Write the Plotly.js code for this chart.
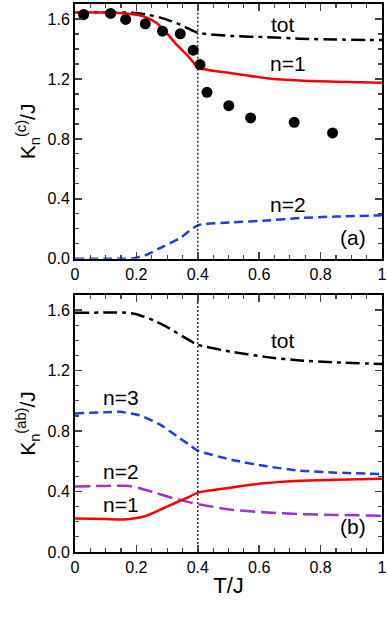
<!DOCTYPE html>
<html><head><meta charset="utf-8">
<script src="https://cdn.plot.ly/plotly-3.0.1.min.js"></script>
<style>html,body{margin:0;padding:0;background:#fff}#chart{width:387px;height:617px}</style>
</head><body><div id="chart"></div>
<script>
// Panel (a): K_n^(c)/J
const aDotsT = [0.028,0.116,0.165,0.229,0.285,0.343,0.385,0.407,0.430,0.501,0.572,0.714,0.839];
const aDotsK = [1.630,1.637,1.597,1.568,1.519,1.501,1.392,1.296,1.111,1.022,0.940,0.911,0.840];
const aN1T = [0,0.10,0.168,0.222,0.266,0.298,0.331,0.364,0.396,0.40,0.516,0.625,0.733,0.85,1.0];
const aN1K = [1.645,1.643,1.636,1.618,1.573,1.507,1.429,1.362,1.284,1.274,1.236,1.205,1.189,1.181,1.175];
const aTotT = [0,0.10,0.20,0.233,0.276,0.331,0.37,0.40,0.516,0.625,0.733,0.85,1.0];
const aTotK = [1.645,1.645,1.640,1.630,1.611,1.573,1.535,1.508,1.486,1.479,1.468,1.463,1.459];
const aN2T = [0,0.10,0.189,0.233,0.287,0.342,0.40,0.516,0.625,0.733,0.85,1.0];
const aN2K = [0,0,0.003,0.027,0.082,0.138,0.223,0.243,0.256,0.272,0.282,0.290];
// Panel (b): K_n^(ab)/J
const bT = [0,0.10,0.157,0.20,0.255,0.309,0.363,0.40,0.516,0.625,0.733,0.85,1.0];
const bTot = [1.582,1.584,1.584,1.573,1.533,1.478,1.411,1.371,1.322,1.289,1.267,1.254,1.244];
const bN3T = [0,0.10,0.146,0.211,0.276,0.331,0.37,0.40,0.516,0.625,0.733,0.85,1.0];
const bN3 = [0.916,0.925,0.927,0.904,0.844,0.767,0.712,0.671,0.607,0.567,0.538,0.525,0.516];
const bN2T = [0,0.10,0.168,0.211,0.266,0.331,0.37,0.40,0.516,0.625,0.733,0.85,1.0];
const bN2 = [0.433,0.437,0.438,0.422,0.389,0.349,0.330,0.316,0.278,0.262,0.251,0.245,0.240];
const bN1T = [0,0.10,0.168,0.222,0.276,0.331,0.374,0.40,0.516,0.625,0.733,0.85,1.0];
const bN1 = [0.222,0.218,0.216,0.233,0.278,0.329,0.367,0.393,0.429,0.456,0.471,0.478,0.484];
const xTicks = [0,0.2,0.4,0.6,0.8,1];
const xTickText = ['0','0.2','0.4','0.6','0.8','1'];
const yTicks = [0,0.4,0.8,1.2,1.6];
const yTickText = ['0.0','0.4','0.8','1.2','1.6'];
const Tc = 0.4;

const sp = 0.6;
const traces = [
  {x:aTotT,y:aTotK,xaxis:'x',yaxis:'y',mode:'lines',line:{color:'#000',width:2.5,dash:'14px,5px,4px,5px',shape:'spline',smoothing:sp}},
  {x:aN2T,y:aN2K,xaxis:'x',yaxis:'y',mode:'lines',line:{color:'#1f3de8',width:2.5,dash:'9px,5px',shape:'spline',smoothing:sp}},
  {x:aN1T,y:aN1K,xaxis:'x',yaxis:'y',mode:'lines',line:{color:'#ff0000',width:2.5,shape:'spline',smoothing:sp}},
  {x:aDotsT,y:aDotsK,xaxis:'x',yaxis:'y',mode:'markers',marker:{color:'#000',size:11}},
  {x:[Tc,Tc],y:[0,1.7],xaxis:'x',yaxis:'y',mode:'lines',line:{color:'#000',width:1.2,dash:'2px,2px'}},
  {x:bT,y:bTot,xaxis:'x2',yaxis:'y2',mode:'lines',line:{color:'#000',width:2.5,dash:'14px,5px,4px,5px',shape:'spline',smoothing:sp}},
  {x:bN3T,y:bN3,xaxis:'x2',yaxis:'y2',mode:'lines',line:{color:'#1f3de8',width:2.5,dash:'9px,5px',shape:'spline',smoothing:sp}},
  {x:bN2T,y:bN2,xaxis:'x2',yaxis:'y2',mode:'lines',line:{color:'#a030d0',width:2.5,dash:'15px,6px',shape:'spline',smoothing:sp}},
  {x:bN1T,y:bN1,xaxis:'x2',yaxis:'y2',mode:'lines',line:{color:'#ff0000',width:2.5,shape:'spline',smoothing:sp}},
  {x:[Tc,Tc],y:[0,1.7],xaxis:'x2',yaxis:'y2',mode:'lines',line:{color:'#000',width:1.2,dash:'2px,2px'}}
];

const fam = "Arial, 'Liberation Sans', sans-serif";
const fnt = {family:fam,size:16,color:'#000'};
function xa(anchor, title){
  return {range:[0,1],anchor:anchor,tickvals:xTicks,ticktext:xTickText,ticks:'inside',ticklen:7,tickwidth:1.5,
    mirror:'allticks',showline:true,linewidth:2,linecolor:'#000',showgrid:false,zeroline:false,tickfont:fnt,
    minor:{dtick:0.05,ticks:'inside',ticklen:4,tickwidth:1.2,showgrid:false},
    title:title?{text:title,font:{family:fam,size:22,color:'#000'},standoff:2}:undefined};
}
function ya(dom, anchor, title){
  return {domain:dom,range:[0,1.7],anchor:anchor,tickvals:yTicks,ticktext:yTickText,ticks:'inside',ticklen:7,tickwidth:1.5,
    mirror:'allticks',showline:true,linewidth:2,linecolor:'#000',showgrid:false,zeroline:false,tickfont:fnt,
    minor:{dtick:0.1,ticks:'inside',ticklen:4,tickwidth:1.2,showgrid:false},
    title:{text:title,font:{family:fam,size:21,color:'#000'},standoff:6}};
}
const afont = {family:fam,size:21,color:'#000'};
function ann(x,y,t,xr,yr){return {x:x,y:y,xref:xr,yref:yr,text:t,showarrow:false,font:afont};}
const layout = {
  width:387,height:617,margin:{l:75,r:5,t:4,b:65},paper_bgcolor:'#fff',plot_bgcolor:'#fff',showlegend:false,
  font:{family:fam,color:'#000'},
  xaxis:xa('y'),
  yaxis:ya([0.535,1],'x','K<sub>n</sub><sup>(c)</sup>/J'),
  xaxis2:xa('y2','T/J'),
  yaxis2:ya([0,0.469],'x2','K<sub>n</sub><sup>(ab)</sup>/J'),
  annotations:[
    ann(0.678,1.562,'tot','x','y'),ann(0.694,1.302,'n=1','x','y'),ann(0.694,0.36,'n=2','x','y'),ann(0.907,0.14,'(a)','x','y'),
    ann(0.678,1.40,'tot','x2','y2'),ann(0.151,1.023,'n=3','x2','y2'),ann(0.151,0.533,'n=2','x2','y2'),ann(0.151,0.311,'n=1','x2','y2'),ann(0.907,0.167,'(b)','x2','y2')
  ]
};
Plotly.newPlot('chart',traces,layout,{staticPlot:true,displayModeBar:false});
</script></body></html>
